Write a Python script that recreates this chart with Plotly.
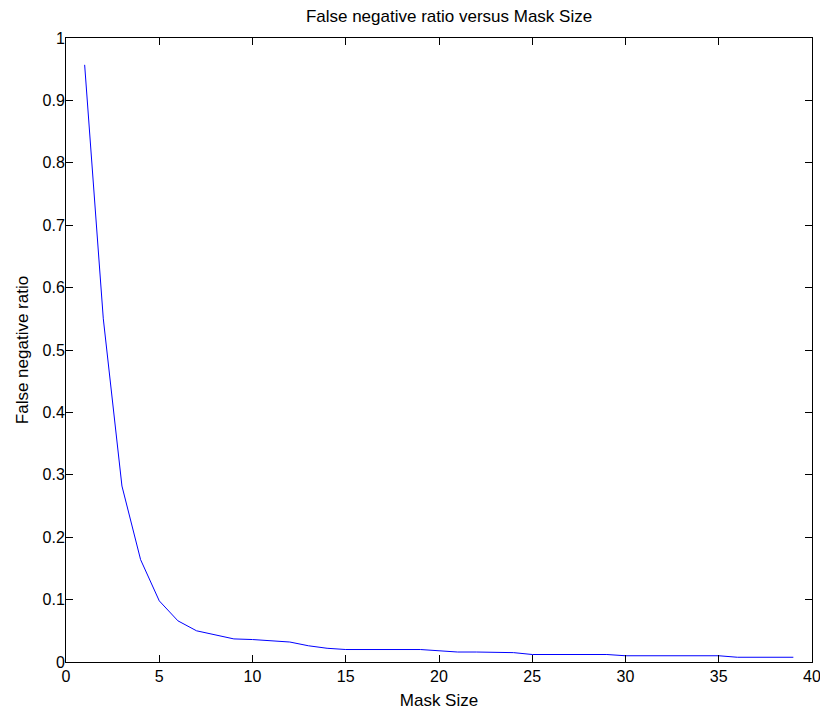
import plotly.graph_objects as go

mask_size = list(range(1, 40))
fn_ratio = [0.957, 0.55, 0.282, 0.164, 0.098, 0.066, 0.050, 0.043, 0.037, 0.036,
            0.034, 0.032, 0.026, 0.022, 0.020, 0.020, 0.020, 0.020, 0.020, 0.018,
            0.016, 0.016, 0.015, 0.015, 0.012, 0.012, 0.012, 0.012, 0.012, 0.010,
            0.010, 0.010, 0.010, 0.010, 0.010, 0.0076, 0.0076, 0.0076, 0.0076]

x_ticks = [0, 5, 10, 15, 20, 25, 30, 35, 40]
y_ticks = [0, 0.1, 0.2, 0.3, 0.4, 0.5, 0.6, 0.7, 0.8, 0.9, 1]
y_tick_text = ["0", "0.1", "0.2", "0.3", "0.4", "0.5", "0.6", "0.7", "0.8", "0.9", "1"]

FONT = "Liberation Sans, Arial"

fig = go.Figure()
fig.add_trace(go.Scatter(x=mask_size, y=fn_ratio, mode="lines",
                         line=dict(color="#0000ff", width=1), showlegend=False))

axis_common = dict(showline=True, linecolor="black", linewidth=1, mirror="ticks",
                   ticks="inside", ticklen=7, tickcolor="black", showgrid=False,
                   zeroline=False, ticklabeloverflow="allow",
                   tickfont=dict(family=FONT, size=16, color="black"))

fig.update_layout(
    width=820, height=710,
    margin=dict(l=66, r=8, t=38, b=48, autoexpand=False),
    plot_bgcolor="white", paper_bgcolor="white",
    title=dict(text="False negative ratio versus Mask Size", x=0.5476, xanchor="center",
               y=0.9775, yanchor="middle",
               font=dict(family=FONT, size=17, color="black")),
    xaxis=dict(range=[0, 40], tickvals=x_ticks, **axis_common,
               title=dict(text="Mask Size", standoff=10,
                          font=dict(family=FONT, size=17, color="black"))),
    yaxis=dict(range=[0, 1], tickvals=y_ticks, ticktext=y_tick_text, ticklabelstandoff=-3,
               **axis_common,
               title=dict(text="False negative ratio", standoff=9,
                          font=dict(family=FONT, size=17, color="black"))),
)

fig.write_html("out.html", post_script="document.body.style.margin='0';",
               config={"displayModeBar": False})
